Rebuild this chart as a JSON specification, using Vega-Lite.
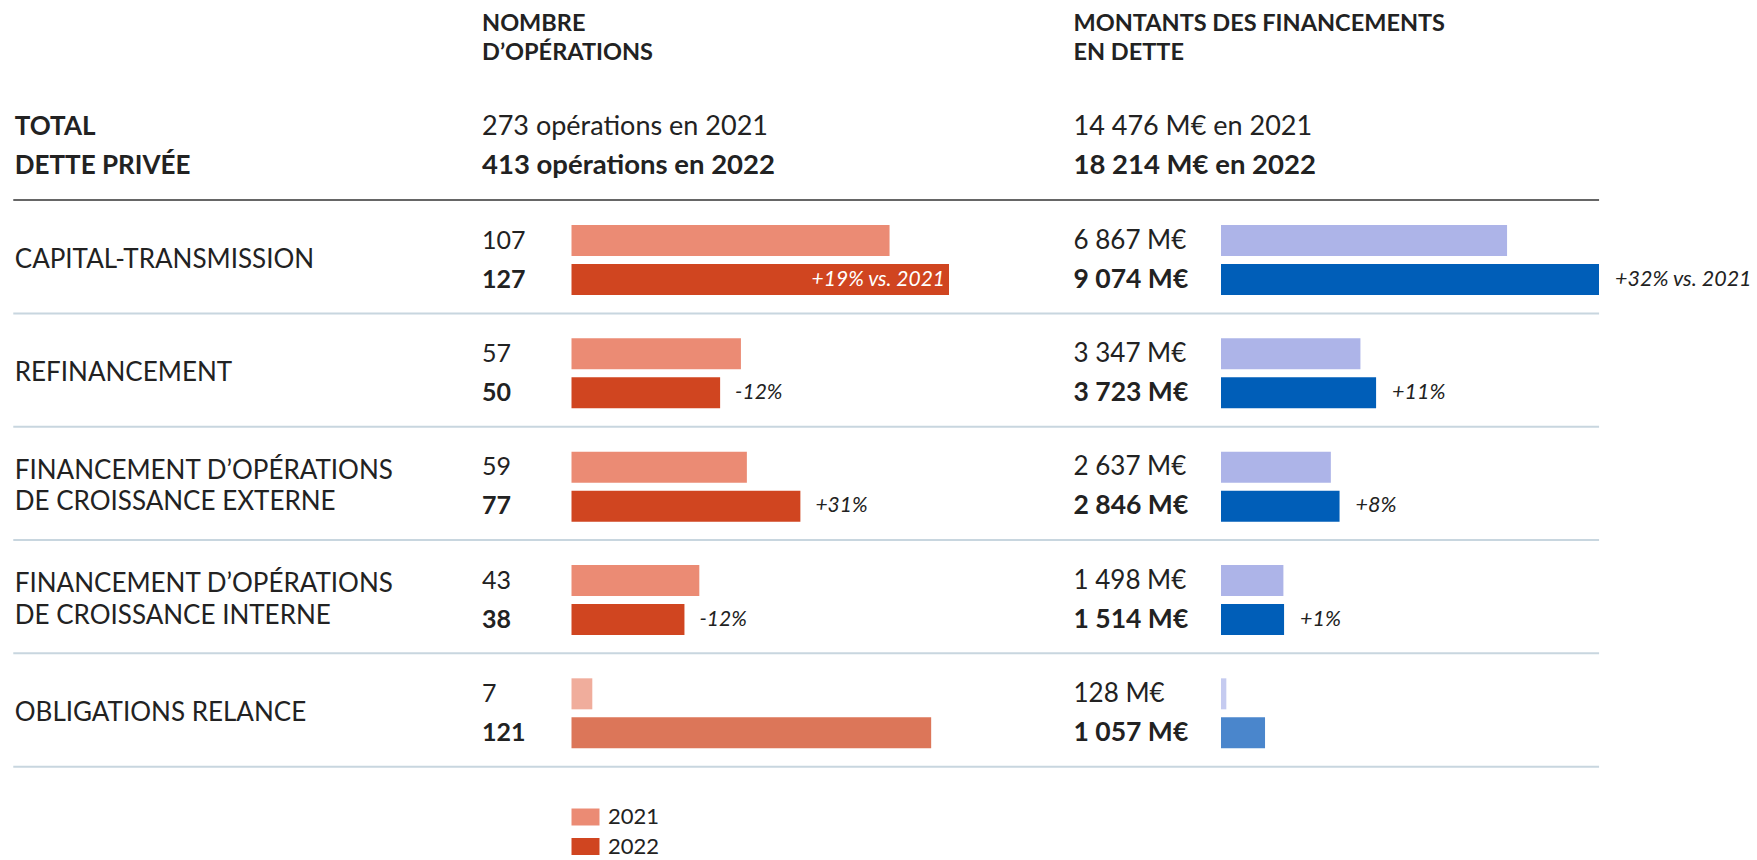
{
  "$schema": "https://vega.github.io/schema/vega-lite/v6.json",
  "width": 1757,
  "height": 860,
  "padding": 0,
  "autosize": {"type": "none"},
  "background": "white",
  "config": {
    "view": {"stroke": null},
    "font": "Lato",
    "text": {"font": "Lato", "color": "#222222", "baseline": "middle", "lineBreak": "\n"},
    "legend": {"symbolOpacity": 1}
  },
  "datasets": {
    "rows": [
      {"slot": "CT", "label": "CAPITAL-TRANSMISSION", "year": "2021", "count": 107, "amount": 6867, "dcount": null, "damount": null},
      {"slot": "CT", "label": "CAPITAL-TRANSMISSION", "year": "2022", "count": 127, "amount": 9074, "dcount": "+19% vs. 2021", "damount": "+32% vs. 2021"},
      {"slot": "REF", "label": "REFINANCEMENT", "year": "2021", "count": 57, "amount": 3347, "dcount": null, "damount": null},
      {"slot": "REF", "label": "REFINANCEMENT", "year": "2022", "count": 50, "amount": 3723, "dcount": "-12%", "damount": "+11%"},
      {"slot": "EXT", "label": "FINANCEMENT D’OPÉRATIONS\nDE CROISSANCE EXTERNE", "year": "2021", "count": 59, "amount": 2637, "dcount": null, "damount": null},
      {"slot": "EXT", "label": "FINANCEMENT D’OPÉRATIONS\nDE CROISSANCE EXTERNE", "year": "2022", "count": 77, "amount": 2846, "dcount": "+31%", "damount": "+8%"},
      {"slot": "INT", "label": "FINANCEMENT D’OPÉRATIONS\nDE CROISSANCE INTERNE", "year": "2021", "count": 43, "amount": 1498, "dcount": null, "damount": null},
      {"slot": "INT", "label": "FINANCEMENT D’OPÉRATIONS\nDE CROISSANCE INTERNE", "year": "2022", "count": 38, "amount": 1514, "dcount": "-12%", "damount": "+1%"},
      {"slot": "OBL", "label": "OBLIGATIONS RELANCE", "year": "2021", "count": 7, "amount": 128, "dcount": null, "damount": null},
      {"slot": "OBL", "label": "OBLIGATIONS RELANCE", "year": "2022", "count": 121, "amount": 1057, "dcount": null, "damount": null}
    ],
    "heads": [
      {"slot": "head", "col": "nombre", "year": null, "text": "NOMBRE\nD’OPÉRATIONS"},
      {"slot": "head", "col": "montant", "year": null, "text": "MONTANTS DES FINANCEMENTS\nEN DETTE"},
      {"slot": "total", "col": "label", "year": "2021", "text": "TOTAL"},
      {"slot": "total", "col": "label", "year": "2022", "text": "DETTE PRIVÉE"},
      {"slot": "total", "col": "nombre", "year": "2021", "text": "273 opérations en 2021"},
      {"slot": "total", "col": "nombre", "year": "2022", "text": "413 opérations en 2022"},
      {"slot": "total", "col": "montant", "year": "2021", "text": "14 476 M€ en 2021"},
      {"slot": "total", "col": "montant", "year": "2022", "text": "18 214 M€ en 2022"}
    ]
  },
  "resolve": {"scale": {"x": "independent"}},
  "layer": [
    {
      "layer": [
        {
          "data": {"name": "rows"},
          "mark": {"type": "bar"},
          "encoding": {
            "y": {"field": "slot", "type": "nominal", "axis": null,
                  "scale": {"domain": ["head", "total", "CT", "REF", "EXT", "INT", "OBL"], "range": [-23.3, 770], "paddingInner": 0, "paddingOuter": 0}},
            "yOffset": {"field": "year", "type": "nominal",
                  "scale": {"domain": ["2021", "2022"], "paddingInner": 0.205, "paddingOuter": 0.555}},
            "x": {"field": "count", "type": "quantitative", "axis": null, "stack": null,
                  "scale": {"domain": [0, 127], "range": [571.5, 949], "nice": false, "zero": false}},
            "fill": {
              "condition": [
                {"test": "datum.slot === 'OBL' && datum.year === '2021'", "value": "#F0AD9C"},
                {"test": "datum.slot === 'OBL' && datum.year === '2022'", "value": "#DC7659"}
              ],
              "field": "year", "type": "nominal",
              "scale": {"domain": ["2021", "2022"], "range": ["#EB8B74", "#D04520"]},
              "legend": {
                "title": null, "orient": "none", "legendX": 571.5, "legendY": 803,
                "direction": "vertical", "padding": 0,
                "symbolType": "M-1,-0.607L1,-0.607L1,0.607L-1,0.607Z", "symbolSize": 784,
                "symbolStrokeWidth": 0, "labelFont": "Lato", "labelFontSize": 22,
                "labelColor": "#222222", "labelOffset": 8.5, "rowPadding": 4.5
              }
            }
          }
        },
        {
          "data": {"name": "rows"},
          "transform": [{"filter": "datum.year === '2021' && indexof(datum.label, '\\n') < 0"}],
          "mark": {"type": "text", "align": "left", "fontSize": 26},
          "encoding": {
            "y": {"field": "slot", "type": "nominal"},
            "x": {"datum": -187.3, "type": "quantitative"},
            "text": {"field": "label"}
          }
        },
        {
          "data": {"name": "rows"},
          "transform": [{"filter": "datum.year === '2021' && indexof(datum.label, '\\n') >= 0"}],
          "mark": {"type": "text", "align": "left", "fontSize": 26, "lineHeight": 31.3, "dy": -15.6},
          "encoding": {
            "y": {"field": "slot", "type": "nominal"},
            "x": {"datum": -187.3, "type": "quantitative"},
            "text": {"field": "label"}
          }
        },
        {
          "data": {"name": "rows"},
          "transform": [{"filter": "datum.year === '2021'"}],
          "mark": {"type": "text", "align": "left", "fontSize": 25},
          "encoding": {
            "y": {"field": "slot", "type": "nominal"},
            "yOffset": {"field": "year", "type": "nominal"},
            "x": {"datum": -30.1, "type": "quantitative"},
            "text": {"field": "count", "type": "quantitative"}
          }
        },
        {
          "data": {"name": "rows"},
          "transform": [{"filter": "datum.year === '2022'"}],
          "mark": {"type": "text", "align": "left", "fontSize": 25, "fontWeight": "bold"},
          "encoding": {
            "y": {"field": "slot", "type": "nominal"},
            "yOffset": {"field": "year", "type": "nominal"},
            "x": {"datum": -30.1, "type": "quantitative"},
            "text": {"field": "count", "type": "quantitative"}
          }
        },
        {
          "data": {"name": "rows"},
          "transform": [{"filter": "datum.year === '2022' && datum.dcount != null && datum.slot !== 'CT'"}],
          "mark": {"type": "text", "align": "left", "fontSize": 21, "fontStyle": "italic", "dx": 15},
          "encoding": {
            "y": {"field": "slot", "type": "nominal"},
            "yOffset": {"field": "year", "type": "nominal"},
            "x": {"field": "count", "type": "quantitative"},
            "text": {"field": "dcount"}
          }
        },
        {
          "data": {"name": "rows"},
          "transform": [{"filter": "datum.year === '2022' && datum.slot === 'CT'"}],
          "mark": {"type": "text", "align": "right", "fontSize": 21, "fontStyle": "italic", "dx": -4, "color": "white"},
          "encoding": {
            "y": {"field": "slot", "type": "nominal"},
            "yOffset": {"field": "year", "type": "nominal"},
            "x": {"field": "count", "type": "quantitative"},
            "text": {"field": "dcount"}
          }
        },
        {
          "data": {"name": "heads"},
          "transform": [{"filter": "datum.slot === 'head' && datum.col === 'nombre'"}],
          "mark": {"type": "text", "align": "left", "fontSize": 23.5, "fontWeight": "bold", "lineHeight": 29.5, "dy": -9.8},
          "encoding": {
            "y": {"field": "slot", "type": "nominal"},
            "x": {"datum": -30.1, "type": "quantitative"},
            "text": {"field": "text"}
          }
        },
        {
          "data": {"name": "heads"},
          "transform": [{"filter": "datum.slot === 'total' && datum.col === 'label'"}],
          "mark": {"type": "text", "align": "left", "fontSize": 26, "fontWeight": "bold"},
          "encoding": {
            "y": {"field": "slot", "type": "nominal"},
            "yOffset": {"field": "year", "type": "nominal"},
            "x": {"datum": -187.3, "type": "quantitative"},
            "text": {"field": "text"}
          }
        },
        {
          "data": {"name": "heads"},
          "transform": [{"filter": "datum.slot === 'total' && datum.col === 'nombre' && datum.year === '2021'"}],
          "mark": {"type": "text", "align": "left", "fontSize": 27},
          "encoding": {
            "y": {"field": "slot", "type": "nominal"},
            "yOffset": {"field": "year", "type": "nominal"},
            "x": {"datum": -30.1, "type": "quantitative"},
            "text": {"field": "text"}
          }
        },
        {
          "data": {"name": "heads"},
          "transform": [{"filter": "datum.slot === 'total' && datum.col === 'nombre' && datum.year === '2022'"}],
          "mark": {"type": "text", "align": "left", "fontSize": 27.5, "fontWeight": "bold"},
          "encoding": {
            "y": {"field": "slot", "type": "nominal"},
            "yOffset": {"field": "year", "type": "nominal"},
            "x": {"datum": -30.1, "type": "quantitative"},
            "text": {"field": "text"}
          }
        },
        {
          "data": {"name": "rows"},
          "transform": [{"filter": "datum.year === '2021'"}],
          "mark": {"type": "rule", "color": "#C8D6DF", "strokeWidth": 2, "yOffset": -3.3},
          "encoding": {
            "y": {"field": "slot", "type": "nominal", "bandPosition": 1},
            "x": {"datum": -187.8, "type": "quantitative"},
            "x2": {"datum": 345.7}
          }
        },
        {
          "data": {"name": "rows"},
          "transform": [{"filter": "datum.year === '2021' && datum.slot === 'CT'"}],
          "mark": {"type": "rule", "color": "#333333", "strokeWidth": 1.5, "yOffset": -3.3},
          "encoding": {
            "y": {"field": "slot", "type": "nominal", "bandPosition": 0},
            "x": {"datum": -187.8, "type": "quantitative"},
            "x2": {"datum": 345.7}
          }
        }
      ]
    },
    {
      "layer": [
        {
          "data": {"name": "rows"},
          "mark": {"type": "bar"},
          "encoding": {
            "y": {"field": "slot", "type": "nominal"},
            "yOffset": {"field": "year", "type": "nominal"},
            "x": {"field": "amount", "type": "quantitative", "axis": null, "stack": null,
                  "scale": {"domain": [0, 9074], "range": [1221, 1599], "nice": false, "zero": false}},
            "fill": {
              "condition": [
                {"test": "datum.slot === 'OBL' && datum.year === '2021'", "value": "#C5CBF0"},
                {"test": "datum.slot === 'OBL' && datum.year === '2022'", "value": "#4A86CC"},
                {"test": "datum.year === '2021'", "value": "#ADB4E8"}
              ],
              "value": "#005EB8"
            }
          }
        },
        {
          "data": {"name": "rows"},
          "transform": [
            {"filter": "datum.year === '2021'"},
            {"calculate": "replace(format(datum.amount, ',d'), ',', ' ') + ' M€'", "as": "amount_label"}
          ],
          "mark": {"type": "text", "align": "left", "fontSize": 26},
          "encoding": {
            "y": {"field": "slot", "type": "nominal"},
            "yOffset": {"field": "year", "type": "nominal"},
            "x": {"datum": -3541, "type": "quantitative"},
            "text": {"field": "amount_label"}
          }
        },
        {
          "data": {"name": "rows"},
          "transform": [
            {"filter": "datum.year === '2022'"},
            {"calculate": "replace(format(datum.amount, ',d'), ',', ' ') + ' M€'", "as": "amount_label"}
          ],
          "mark": {"type": "text", "align": "left", "fontSize": 26.5, "fontWeight": "bold"},
          "encoding": {
            "y": {"field": "slot", "type": "nominal"},
            "yOffset": {"field": "year", "type": "nominal"},
            "x": {"datum": -3541, "type": "quantitative"},
            "text": {"field": "amount_label"}
          }
        },
        {
          "data": {"name": "rows"},
          "transform": [{"filter": "datum.year === '2022' && datum.damount != null"}],
          "mark": {"type": "text", "align": "left", "fontSize": 21.5, "fontStyle": "italic", "dx": 16},
          "encoding": {
            "y": {"field": "slot", "type": "nominal"},
            "yOffset": {"field": "year", "type": "nominal"},
            "x": {"field": "amount", "type": "quantitative"},
            "text": {"field": "damount"}
          }
        },
        {
          "data": {"name": "heads"},
          "transform": [{"filter": "datum.slot === 'head' && datum.col === 'montant'"}],
          "mark": {"type": "text", "align": "left", "fontSize": 23.5, "fontWeight": "bold", "lineHeight": 29.5, "dy": -9.8},
          "encoding": {
            "y": {"field": "slot", "type": "nominal"},
            "x": {"datum": -3541, "type": "quantitative"},
            "text": {"field": "text"}
          }
        },
        {
          "data": {"name": "heads"},
          "transform": [{"filter": "datum.slot === 'total' && datum.col === 'montant' && datum.year === '2021'"}],
          "mark": {"type": "text", "align": "left", "fontSize": 27},
          "encoding": {
            "y": {"field": "slot", "type": "nominal"},
            "yOffset": {"field": "year", "type": "nominal"},
            "x": {"datum": -3541, "type": "quantitative"},
            "text": {"field": "text"}
          }
        },
        {
          "data": {"name": "heads"},
          "transform": [{"filter": "datum.slot === 'total' && datum.col === 'montant' && datum.year === '2022'"}],
          "mark": {"type": "text", "align": "left", "fontSize": 27.5, "fontWeight": "bold"},
          "encoding": {
            "y": {"field": "slot", "type": "nominal"},
            "yOffset": {"field": "year", "type": "nominal"},
            "x": {"datum": -3541, "type": "quantitative"},
            "text": {"field": "text"}
          }
        }
      ]
    }
  ]
}
